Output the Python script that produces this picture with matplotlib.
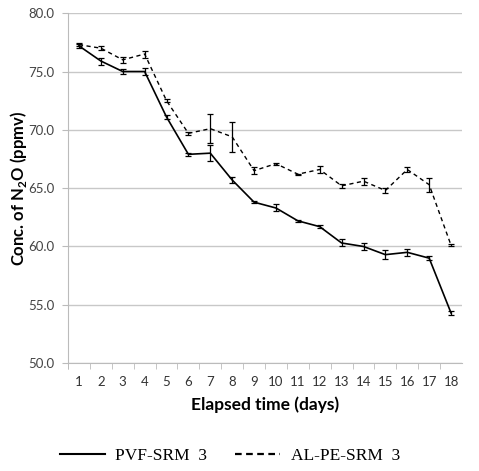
import matplotlib.pyplot as plt
from matplotlib.lines import Line2D

plt.rcParams['font.family'] = ['Lato', 'DejaVu Sans']
plt.rcParams['mathtext.fontset'] = 'custom'
plt.rcParams['mathtext.rm'] = 'Lato'
plt.rcParams['mathtext.bf'] = 'Lato:bold'

days = list(range(1, 19))

pvf = [77.2, 75.9, 75.0, 75.0, 71.1, 67.9, 68.0, 65.7, 63.8, 63.3,
       62.2, 61.7, 60.3, 60.0, 59.3, 59.5, 59.0, 54.3]
pvf_err = [0.2, 0.3, 0.2, 0.3, 0.15, 0.1, 0.7, 0.25, 0.1, 0.3,
           0.1, 0.1, 0.3, 0.3, 0.4, 0.3, 0.2, 0.2]

alpe = [77.3, 77.0, 76.0, 76.5, 72.5, 69.7, 70.1, 69.4, 66.5, 67.1,
        66.2, 66.6, 65.2, 65.6, 64.8, 66.6, 65.3, 60.1]
alpe_err = [0.15, 0.15, 0.25, 0.3, 0.15, 0.1, 1.25, 1.3, 0.3, 0.1,
            0.05, 0.3, 0.15, 0.3, 0.2, 0.2, 0.6, 0.1]

fig = plt.figure(figsize=(4.79, 4.71), dpi=100)
ax = fig.add_axes([0.142, 0.229, 0.8225, 0.743])

ax.errorbar(days, pvf, yerr=pvf_err, color='black', lw=1.2,
            ecolor='black', elinewidth=0.9, capsize=2, capthick=0.9, zorder=3)
ax.errorbar(days, alpe, yerr=alpe_err, color='black', lw=1.0, ls=(0, (3, 2.5)),
            ecolor='black', elinewidth=0.9, capsize=2, capthick=0.9, zorder=3)

ax.set_xlim(0.5, 18.5)
ax.set_ylim(50, 80)
ax.set_yticks([50, 55, 60, 65, 70, 75, 80])
ax.set_yticklabels([f"{v:.1f}" for v in [50, 55, 60, 65, 70, 75, 80]])
ax.set_xticks(days)
ax.set_xticks([d + 0.5 for d in range(0, 18)] + [0.5], minor=True)
ax.tick_params(axis='x', which='major', length=0, pad=9, labelsize=9.5, labelcolor='#333333')
ax.tick_params(axis='x', which='minor', length=4, color='#bbbbbb', direction='out')
ax.tick_params(axis='y', length=4, color='#bbbbbb', labelsize=9.5, labelcolor='#444444', pad=6)

ax.grid(axis='y', color='#c8c8c8', lw=1)
ax.set_axisbelow(True)
for s in ['top', 'right']:
    ax.spines[s].set_visible(False)
for s in ['left', 'bottom']:
    ax.spines[s].set_color('#bbbbbb')

ax.set_xlabel("Elapsed time (days)", fontsize=12.5, fontweight='bold', labelpad=6)
ax.set_ylabel("Conc. of N$_\\mathbf{2}$O (ppmv)", fontsize=12, fontweight='bold')
ax.yaxis.set_label_coords(-0.1, 0.5)

handles = [Line2D([], [], color='black', lw=1.5),
           Line2D([], [], color='black', lw=1.6, ls=(0, (3, 2)))]
fig.legend(handles, ["PVF-SRM  3", "AL-PE-SRM  3"], loc='center', ncol=2,
           bbox_to_anchor=(0.48, 0.032), frameon=False, handlelength=2.6,
           handletextpad=0.6, columnspacing=1.6,
           prop={'family': 'Liberation Serif', 'size': 12.5})

fig.savefig("out.png", dpi=100)
